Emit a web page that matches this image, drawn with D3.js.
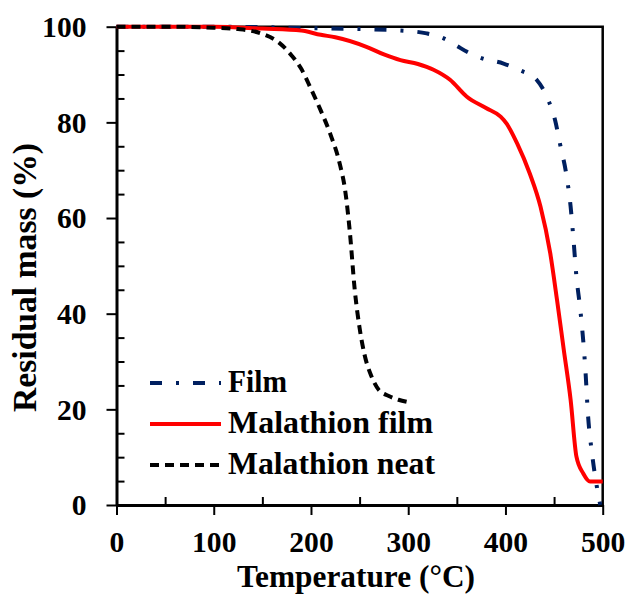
<!DOCTYPE html>
<html>
<head>
<meta charset="utf-8">
<script src="https://cdn.jsdelivr.net/npm/d3@7"></script>
<style>
  html, body { margin: 0; padding: 0; background: #fff; }
  svg text { font-family: "Liberation Serif", "DejaVu Serif", serif; font-weight: bold; fill: #000; }
</style>
</head>
<body>
<svg id="chart" width="629" height="594"></svg>
<script>
// Thermogravimetric curves: temperature (°C) vs residual mass (%)
const filmTemp = [0, 100, 200, 250, 292, 319, 336, 350, 360, 376, 398, 415, 432, 444, 451, 456, 463, 467, 470, 473, 477, 482, 485, 489, 494, 497.5];
const filmMass = [100, 100, 99.7, 99.5, 99.2, 98.6, 97.6, 96, 94.8, 93.4, 92.3, 90.9, 88.9, 84.7, 80.5, 75.6, 68.6, 62.4, 55.4, 47.7, 40.8, 28.9, 18.5, 10.8, 3.8, 0];

const malFilmTemp = [0, 100, 150, 190, 210, 225, 257, 275, 292, 310, 326, 343, 360, 380, 395, 401, 412, 425, 436, 446, 453, 460, 467, 473, 480, 487, 500];
const malFilmMass = [100, 100, 99.6, 99.2, 98.3, 97.8, 95.8, 94.2, 93, 92.2, 91, 88.9, 85.4, 83, 81.2, 79.8, 75.6, 69.3, 62.4, 52.7, 42.9, 32.4, 22, 10.1, 6.6, 4.9, 4.9];

const malNeatTemp = [0, 50, 100, 125, 150, 165, 180, 190, 200, 210, 220, 230, 235, 240, 245, 250, 255, 262, 270, 280, 290, 300];
const malNeatMass = [100, 100, 99.8, 99.5, 98.5, 97, 94, 91.2, 87, 82.5, 77.5, 71, 66, 57, 45, 37, 31.5, 27, 24, 22.8, 22, 21.5];

const seriesNames = ["Film", "Malathion film", "Malathion neat"];
const xTicks = [0, 100, 200, 300, 400, 500];
const xMinorTicks = [50, 150, 250, 350, 450];
const yTicks = [0, 20, 40, 60, 80, 100];
const yMinorTicks = [5, 10, 15, 25, 30, 35, 45, 50, 55, 65, 70, 75, 85, 90, 95];

const svg = d3.select("#chart");
const plotLeft = 116.5, plotRight = 602.7, plotTop = 26.7, plotBottom = 505;

const x = d3.scaleLinear().domain([0, 500]).range([plotLeft, plotRight]);
const y = d3.scaleLinear().domain([0, 100]).range([plotBottom, plotTop]);

const series = [
  { name: seriesNames[0], t: filmTemp, m: filmMass, color: "#002060", dash: "12,14,3,14", width: 4 },
  { name: seriesNames[1], t: malFilmTemp, m: malFilmMass, color: "#ff0000", dash: null, width: 4 },
  { name: seriesNames[2], t: malNeatTemp, m: malNeatMass, color: "#000000", dash: "9,6", width: 4 }
];

// fit a text element to a given advance width
function fitWidth(sel, w) {
  sel.attr("textLength", w).attr("lengthAdjust", "spacingAndGlyphs");
}

// plot frame (top and right edges)
svg.append("path")
  .attr("d", `M${plotLeft},${plotTop}H${plotRight}V${plotBottom}`)
  .attr("fill", "none").attr("stroke", "#000").attr("stroke-width", 2.5);

// minor ticks point inward
svg.append("g").attr("transform", `translate(0,${plotBottom})`)
  .call(d3.axisTop(x).tickValues(xMinorTicks).tickSize(8).tickFormat(""))
  .call(g => g.select(".domain").remove())
  .call(g => g.selectAll("line").attr("stroke-width", 2));
svg.append("g").attr("transform", `translate(${plotLeft},0)`)
  .call(d3.axisRight(y).tickValues(yMinorTicks).tickSize(8).tickFormat(""))
  .call(g => g.select(".domain").remove())
  .call(g => g.selectAll("line").attr("stroke-width", 2));

// major axes, ticks pointing outward
const xAxis = svg.append("g").attr("transform", `translate(0,${plotBottom})`)
  .call(d3.axisBottom(x).tickValues(xTicks).tickSize(10).tickSizeOuter(0).tickPadding(16));
const yAxis = svg.append("g").attr("transform", `translate(${plotLeft},0)`)
  .call(d3.axisLeft(y).tickValues(yTicks).tickSize(10).tickSizeOuter(0).tickPadding(20));

[xAxis, yAxis].forEach(a => {
  a.select(".domain").attr("stroke-width", 3);
  a.selectAll(".tick line").attr("stroke-width", 2);
  a.selectAll(".tick text").attr("font-size", 29)
    .attr("fill", "#000")
    .each(function (d) { fitWidth(d3.select(this), String(d).length * 14.8); });
});
yAxis.selectAll(".tick text").attr("dy", "0.34em");

// axis titles
svg.append("text").attr("x", 356).attr("y", 587)
  .attr("text-anchor", "middle").attr("font-size", 31)
  .text("Temperature (°C)")
  .call(fitWidth, 238);
svg.append("text")
  .attr("transform", `translate(36,277.5) rotate(-90)`)
  .attr("text-anchor", "middle").attr("font-size", 33)
  .text("Residual mass (%)")
  .call(fitWidth, 269);

// curves
const line = d3.line().curve(d3.curveMonotoneX);
series.forEach(s => {
  const pts = s.t.map((t, i) => [x(t), y(s.m[i])]);
  svg.append("path")
    .attr("d", line(pts))
    .attr("fill", "none")
    .attr("stroke", s.color)
    .attr("stroke-width", s.width)
    .attr("stroke-dasharray", s.dash);
});

// legend
const legendY = [383, 424, 465];
const legendW = [59, 205, 207];
const legend = svg.append("g");
series.forEach((s, i) => {
  legend.append("line")
    .attr("x1", 150).attr("x2", 221)
    .attr("y1", legendY[i]).attr("y2", legendY[i])
    .attr("stroke", s.color).attr("stroke-width", s.width)
    .attr("stroke-dasharray", s.dash);
  legend.append("text")
    .attr("x", 228).attr("y", legendY[i] + 9)
    .attr("font-size", 31)
    .text(s.name)
    .call(fitWidth, legendW[i]);
});
</script>
</body>
</html>
